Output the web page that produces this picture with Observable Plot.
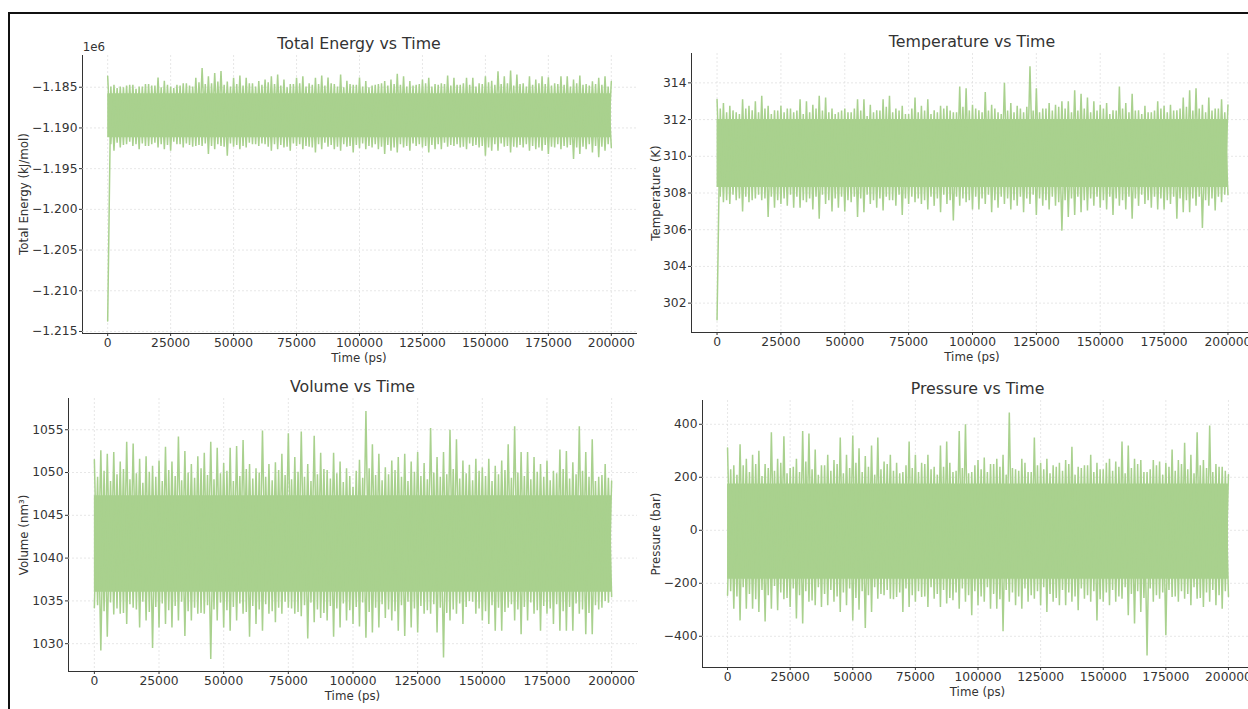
<!DOCTYPE html>
<html>
<head>
<meta charset="utf-8">
<script src="https://cdn.jsdelivr.net/npm/d3@7"></script>
<script src="https://cdn.jsdelivr.net/npm/@observablehq/plot@0.6"></script>
<style>
  html, body { margin: 0; padding: 0; background: #fff; }
  #page { position: relative; width: 1248px; height: 709px; overflow: hidden; background: #fff;
          font-family: "DejaVu Sans", sans-serif; color: #333; }
  .txt { position: absolute; white-space: nowrap; transform: translate(-50%, -50%); }
  .title { font-size: 15.8px; color: #333; }
  .lab { font-size: 11.8px; color: #333; }
  .ylab { transform: translate(-50%, -50%) rotate(-90deg); }
  .bar { position: absolute; background: #111; }
</style>
</head>
<body>
<div id="page"></div>
<script>
// ---------------- data ----------------
const timeTicks = [0, 25000, 50000, 75000, 100000, 125000, 150000, 175000, 200000];
// bin centres for the extreme spikes
const binTimes = [0,2500,5000,7500,10000,12500,15000,17500,20000,22500,
  25000,27500,30000,32500,35000,37500,40000,42500,45000,47500,
  50000,52500,55000,57500,60000,62500,65000,67500,70000,72500,
  75000,77500,80000,82500,85000,87500,90000,92500,95000,97500,
  100000,102500,105000,107500,110000,112500,115000,117500,120000,122500,
  125000,127500,130000,132500,135000,137500,140000,142500,145000,147500,
  150000,152500,155000,157500,160000,162500,165000,167500,170000,172500,
  175000,177500,180000,182500,185000,187500,190000,192500,195000,197500,
  200000];
// in-between times for the denser fringe just outside the solid band
const midTimes = [1250,3750,6250,8750,11250,13750,16250,18750,21250,23750,
  26250,28750,31250,33750,36250,38750,41250,43750,46250,48750,
  51250,53750,56250,58750,61250,63750,66250,68750,71250,73750,
  76250,78750,81250,83750,86250,88750,91250,93750,96250,98750,
  101250,103750,106250,108750,111250,113750,116250,118750,121250,123750,
  126250,128750,131250,133750,136250,138750,141250,143750,146250,148750,
  151250,153750,156250,158750,161250,163750,166250,168750,171250,173750,
  176250,178750,181250,183750,186250,188750,191250,193750,196250,198750];

// Total energy (kJ/mol)
const energyHigh = [-1183650,-1184700,-1184900,-1184800,-1184700,-1184900,-1184600,-1184800,-1183800,-1184200,
  -1184900,-1184700,-1184500,-1184800,-1183850,-1182650,-1183650,-1183250,-1183000,-1184300,
  -1183850,-1183550,-1183850,-1184500,-1184250,-1184050,-1183650,-1183450,-1184050,-1184600,
  -1183850,-1183650,-1184500,-1183850,-1183550,-1183800,-1184600,-1183450,-1184200,-1184700,
  -1183800,-1184250,-1184800,-1184600,-1184250,-1184050,-1183350,-1183650,-1184250,-1184700,
  -1184050,-1183850,-1184600,-1184500,-1183550,-1183850,-1184700,-1183850,-1183850,-1184500,
  -1183650,-1184200,-1183050,-1183650,-1182950,-1183450,-1184500,-1183650,-1184050,-1183650,
  -1183780,-1184500,-1183650,-1183650,-1184050,-1183550,-1184600,-1184270,-1183850,-1183650,
  -1184300];
const energyLow = [-1213700,-1192800,-1192400,-1192000,-1192200,-1192600,-1192200,-1192000,-1192400,-1192600,
  -1192800,-1192000,-1192400,-1192100,-1192200,-1192200,-1193200,-1192600,-1192200,-1193400,
  -1192300,-1192600,-1192400,-1192000,-1192200,-1192000,-1192800,-1192600,-1192400,-1192800,
  -1192200,-1192600,-1192300,-1193000,-1192600,-1192300,-1192600,-1192800,-1192300,-1193000,
  -1192500,-1192600,-1192400,-1192600,-1193200,-1192800,-1193000,-1192400,-1192800,-1192200,
  -1192400,-1193000,-1192600,-1192600,-1192300,-1192200,-1192400,-1192600,-1192200,-1192400,
  -1193400,-1192800,-1192800,-1192300,-1193000,-1192400,-1192400,-1192800,-1192600,-1192800,
  -1193200,-1192400,-1192600,-1192400,-1193800,-1193200,-1192600,-1193000,-1193600,-1192800,
  -1192400];
const energyFringeHigh = [-1184900,-1185100,-1185000,-1184700,-1185200,-1184900,-1184600,-1184800,-1185000,-1184700,
  -1185100,-1184800,-1184500,-1184900,-1184400,-1184600,-1184500,-1184300,-1184700,-1184900,
  -1184600,-1184800,-1184500,-1184900,-1184700,-1184400,-1184600,-1184800,-1185000,-1184600,
  -1184500,-1184900,-1184700,-1184600,-1184800,-1184500,-1184900,-1185000,-1184600,-1184700,
  -1184900,-1185000,-1184700,-1184500,-1184800,-1184600,-1184700,-1184900,-1184800,-1184600,
  -1184500,-1184900,-1184700,-1184600,-1184800,-1184700,-1184500,-1184700,-1184900,-1184600,
  -1184400,-1184700,-1184600,-1184500,-1184800,-1184600,-1184900,-1184700,-1184500,-1184600,
  -1184800,-1184600,-1184700,-1184900,-1184500,-1184700,-1184800,-1184600,-1184700,-1184900];
const energyFringeLow = [-1192000,-1191800,-1192100,-1191700,-1192000,-1191900,-1192200,-1191800,-1192000,-1192100,
  -1191700,-1192000,-1191900,-1192300,-1192100,-1191900,-1192200,-1192000,-1192300,-1191900,
  -1192100,-1192200,-1191800,-1192000,-1191900,-1192300,-1192000,-1192100,-1192300,-1191900,
  -1192000,-1192200,-1192400,-1192000,-1191800,-1192100,-1192300,-1192000,-1192200,-1192100,
  -1191900,-1192200,-1192000,-1192300,-1192100,-1192400,-1192000,-1192200,-1191900,-1192000,
  -1192200,-1192100,-1192000,-1191800,-1192100,-1192000,-1192300,-1191900,-1192100,-1192200,
  -1192400,-1192000,-1191900,-1192200,-1192300,-1192100,-1192000,-1192200,-1192400,-1192100,
  -1192300,-1192000,-1192200,-1192100,-1192400,-1192300,-1192000,-1192200,-1192300,-1192000];
const energyCore = [-1191200, -1185800];
const energyTicks = [-1215000, -1210000, -1205000, -1200000, -1195000, -1190000, -1185000];

// Temperature (K)
const tempHigh = [313.1,312.9,312.75,312.4,313.1,312.75,313.0,313.3,312.75,312.5,
  312.75,312.6,312.4,313.1,313.0,312.8,313.3,313.2,312.6,312.4,
  312.6,312.4,313.1,313.1,312.8,312.5,313.1,313.3,312.6,312.75,
  312.3,313.2,312.75,313.1,312.5,312.75,312.75,312.4,313.8,313.7,
  312.8,312.5,313.5,312.8,312.4,314.0,312.9,312.75,312.4,314.9,
  313.7,312.6,312.9,312.8,313.0,313.0,313.6,313.4,313.2,313.0,
  312.8,312.9,312.5,313.8,312.9,313.4,312.5,312.75,312.4,313.0,
  312.75,312.8,312.5,313.2,313.6,313.7,312.8,313.2,312.6,313.1,
  312.8];
const tempLow = [301.1,307.5,307.4,307.6,307.0,307.5,307.7,307.6,306.7,307.2,
  307.4,307.3,307.2,307.2,307.5,307.1,306.6,307.4,307.0,307.2,
  307.0,307.5,306.7,306.95,307.4,307.2,307.05,307.6,307.3,306.8,
  307.4,307.5,307.4,307.1,307.3,306.95,307.4,306.5,307.3,307.5,
  307.1,307.1,307.4,306.95,307.2,307.4,307.1,307.3,306.95,307.4,
  306.8,307.3,307.1,307.3,305.95,306.7,306.8,306.95,307.05,307.3,
  307.2,307.1,306.8,307.3,307.1,306.6,307.3,307.4,307.2,307.1,
  307.1,307.4,306.6,306.95,306.95,307.3,306.1,307.3,307.05,307.5,
  307.9];
const tempFringeHigh = [312.6,312.4,312.5,312.3,312.6,312.5,312.4,312.6,312.3,312.5,
  312.4,312.6,312.5,312.3,312.4,312.6,312.5,312.4,312.3,312.5,
  312.4,312.6,312.5,312.2,312.4,312.5,312.7,312.4,312.5,312.3,
  312.6,312.4,312.5,312.3,312.4,312.6,312.5,312.4,312.7,312.5,
  312.6,312.4,312.5,312.6,312.3,312.5,312.4,312.6,312.7,312.5,
  312.4,312.6,312.5,312.7,312.6,312.4,312.5,312.6,312.4,312.5,
  312.6,312.3,312.5,312.6,312.4,312.5,312.3,312.4,312.5,312.6,
  312.4,312.5,312.6,312.7,312.5,312.6,312.4,312.5,312.6,312.4];
const tempFringeLow = [307.8,307.6,307.9,307.7,307.8,307.6,307.9,307.7,307.8,307.6,
  307.7,307.9,307.8,307.6,307.7,307.8,307.9,307.6,307.7,307.8,
  307.6,307.8,307.7,307.9,307.6,307.7,307.8,307.6,307.9,307.7,
  307.8,307.7,307.6,307.8,307.7,307.9,307.6,307.8,307.7,307.6,
  307.8,307.7,307.9,307.6,307.8,307.7,307.6,307.8,307.7,307.9,
  307.7,307.6,307.8,307.5,307.6,307.7,307.8,307.6,307.7,307.8,
  307.6,307.8,307.7,307.6,307.8,307.7,307.9,307.6,307.8,307.7,
  307.6,307.8,307.7,307.6,307.7,307.8,307.6,307.7,307.8,307.9];
const tempCore = [308.3, 312.0];
const tempTicks = [302, 304, 306, 308, 310, 312, 314];

// Volume (nm³)
const volumeHigh = [1051.5,1052.6,1052.2,1052.4,1051.3,1053.6,1053.4,1051.6,1051.9,1050.8,
  1051.4,1053.0,1051.3,1054.2,1052.5,1051.0,1051.9,1052.3,1053.6,1052.9,
  1051.1,1052.9,1053.1,1053.8,1051.0,1050.5,1054.9,1051.0,1051.2,1052.2,
  1054.6,1051.8,1054.8,1051.0,1054.3,1052.3,1050.3,1052.3,1051.3,1050.5,
  1048.3,1051.5,1057.2,1053.3,1052.2,1050.6,1051.4,1051.8,1052.2,1051.3,
  1052.4,1051.1,1055.2,1051.8,1052.4,1055.0,1053.9,1051.4,1050.9,1051.6,
  1050.6,1051.6,1050.8,1051.4,1053.3,1055.4,1052.4,1052.4,1051.8,1051.0,
  1051.4,1050.2,1052.7,1052.5,1051.2,1055.4,1052.4,1053.9,1049.5,1051.0,
  1049.0];
const volumeLow = [1034.2,1029.2,1030.8,1033.4,1033.5,1032.3,1034.2,1031.9,1032.7,1029.5,
  1031.9,1032.3,1031.9,1032.7,1030.9,1032.7,1033.5,1033.5,1028.2,1032.7,
  1031.9,1031.5,1032.7,1033.5,1030.8,1032.3,1031.5,1033.5,1032.5,1033.5,
  1034.2,1033.5,1033.2,1030.6,1032.5,1033.0,1032.7,1030.8,1031.9,1032.7,
  1032.3,1032.0,1030.7,1031.3,1031.9,1033.0,1032.7,1031.5,1030.9,1031.9,
  1031.3,1033.5,1033.5,1031.3,1028.4,1032.7,1033.5,1032.3,1035.0,1033.5,
  1032.7,1032.3,1031.5,1031.5,1034.2,1032.7,1031.1,1032.7,1033.5,1031.5,
  1033.5,1032.3,1031.5,1031.5,1031.5,1033.5,1031.1,1031.1,1034.0,1035.0,
  1035.5];
const volumeFringeHigh = [1049.5,1050.2,1049.0,1049.8,1050.4,1049.2,1049.9,1048.8,1050.1,1049.5,
  1049.0,1050.3,1049.6,1049.1,1050.0,1049.4,1050.5,1049.7,1049.2,1049.9,
  1050.2,1049.0,1049.6,1050.4,1049.3,1050.0,1049.5,1049.1,1050.3,1049.7,
  1049.2,1050.1,1049.5,1049.0,1049.8,1050.4,1049.3,1049.9,1048.9,1049.6,
  1050.2,1049.4,1050.5,1049.7,1049.1,1049.8,1050.3,1049.5,1049.0,1050.1,
  1049.6,1049.2,1050.0,1049.5,1049.8,1050.4,1049.3,1049.9,1049.1,1050.2,
  1049.6,1049.0,1049.8,1050.3,1049.4,1050.0,1049.6,1049.2,1050.1,1049.5,
  1049.1,1049.9,1050.4,1049.3,1049.8,1050.2,1049.5,1049.0,1049.7,1049.4];
const volumeFringeLow = [1034.5,1033.8,1034.8,1034.1,1033.6,1034.6,1034.0,1034.9,1033.7,1034.3,
  1034.7,1033.9,1034.4,1034.9,1033.8,1034.2,1033.6,1034.5,1034.0,1034.8,
  1033.9,1034.3,1034.7,1033.7,1034.4,1034.0,1034.6,1033.8,1034.2,1034.9,
  1034.1,1033.7,1034.5,1034.8,1034.0,1033.6,1034.4,1034.1,1034.7,1033.9,
  1034.3,1034.8,1033.7,1034.2,1034.6,1034.0,1033.8,1034.5,1034.9,1034.1,
  1034.4,1033.9,1034.6,1034.2,1033.6,1034.0,1034.7,1034.3,1034.9,1034.1,
  1033.8,1034.5,1034.2,1033.7,1034.6,1034.0,1034.3,1034.8,1033.9,1034.4,
  1034.1,1034.6,1033.8,1034.3,1034.7,1034.0,1033.6,1034.5,1034.2,1034.8];
const volumeCore = [1036.0, 1047.3];
const volumeTicks = [1030, 1035, 1040, 1045, 1050, 1055];

// Pressure (bar)
const pressureHigh = [311,245,325,270,285,300,250,370,270,355,
  235,270,375,365,305,245,285,265,350,285,
  358,310,280,320,350,260,285,255,220,335,
  285,255,285,240,320,335,220,375,400,220,
  265,275,250,270,285,444,230,270,220,350,
  255,270,245,255,265,315,240,245,285,255,
  230,270,260,335,320,270,265,220,265,260,
  255,305,265,330,285,370,265,395,250,240,
  210];
const pressureLow = [-245,-296,-340,-296,-296,-308,-344,-296,-302,-260,
  -289,-333,-352,-270,-283,-289,-283,-270,-308,-283,
  -340,-300,-369,-308,-258,-245,-258,-252,-308,-289,
  -270,-252,-289,-258,-289,-276,-264,-296,-270,-321,
  -283,-270,-296,-296,-381,-270,-283,-296,-270,-258,
  -283,-308,-270,-283,-283,-270,-302,-258,-270,-340,
  -270,-283,-270,-258,-321,-352,-308,-472,-270,-258,
  -396,-252,-270,-258,-283,-258,-289,-270,-283,-296,
  -250];
const pressureFringeHigh = [230,210,245,220,250,205,235,225,255,215,
  240,220,260,230,210,245,225,250,215,235,
  255,220,240,210,230,250,225,215,245,235,
  220,250,230,210,240,255,225,235,215,245,
  230,220,250,240,210,235,225,255,220,245,
  230,215,240,225,250,210,235,245,220,230,
  255,225,240,215,235,250,220,230,245,210,
  240,225,250,230,215,245,235,220,240,225];
const pressureFringeLow = [-230,-250,-215,-240,-260,-225,-245,-210,-235,-255,
  -220,-245,-230,-265,-215,-240,-225,-250,-235,-220,
  -255,-230,-245,-215,-240,-225,-260,-235,-220,-245,
  -230,-250,-215,-240,-225,-255,-235,-220,-245,-230,
  -250,-215,-240,-260,-225,-235,-250,-220,-245,-230,
  -215,-240,-255,-225,-235,-250,-220,-245,-230,-260,
  -235,-225,-250,-215,-240,-230,-255,-220,-245,-235,
  -225,-250,-230,-240,-215,-255,-235,-225,-245,-230];
const pressureCore = [-185, 175];
const pressureTicks = [-400, -200, 0, 200, 400];

// ---------------- drawing ----------------
const GREEN = "#a9d18e";
const page = document.getElementById("page");

function addText(cls, text, x, y) {
  const d = document.createElement("div");
  d.className = "txt " + cls;
  d.textContent = text;
  d.style.left = x + "px";
  d.style.top = y + "px";
  page.appendChild(d);
}
function addBar(l, t, w, h) {
  const d = document.createElement("div");
  d.className = "bar";
  Object.assign(d.style, {left: l + "px", top: t + "px", width: w + "px", height: h + "px"});
  page.appendChild(d);
}

function panel(p) {
  // the band
  const core = binTimes.map(t => ({t, lo: p.core[0], hi: p.core[1]}));
  // two interleaved zig-zag traces: bin extremes alternating with the in-between fringe values
  const traceA = [], traceB = [];
  binTimes.forEach((t, i) => {
    traceA.push({t, v: p.high[i]});
    traceB.push({t, v: p.low[i]});
    if (i < midTimes.length) {
      traceA.push({t: midTimes[i], v: p.fLow[i]});
      traceB.push({t: midTimes[i], v: p.fHigh[i]});
    }
  });
  const mL = 70, mR = 6, mT = 6, mB = 40;
  const grid = {stroke: "#dcdcdc", strokeOpacity: 1, strokeWidth: 0.7, strokeDasharray: "2,2"};
  const svg = Plot.plot({
    width: mL + p.w + mR,
    height: mT + p.h + mB,
    marginLeft: mL, marginRight: mR, marginTop: mT, marginBottom: mB,
    style: "font-family:'DejaVu Sans',sans-serif;font-size:12.3px;color:#333;background:transparent;overflow:visible;",
    x: {domain: [-10000, 210000], ticks: timeTicks, tickFormat: d => String(d),
        tickSize: 3, tickPadding: 2, label: null, line: true},
    y: {domain: p.domain, ticks: p.ticks, tickFormat: p.fmt,
        tickSize: 3, tickPadding: 2, label: null, line: true},
    marks: [
      Plot.gridX(timeTicks, grid),
      Plot.gridY(p.ticks, grid),
      Plot.areaY(core, {x: "t", y1: "lo", y2: "hi", fill: GREEN}),
      Plot.lineY(traceA, {x: "t", y: "v", stroke: GREEN, strokeWidth: 1.5, strokeLinejoin: "miter"}),
      Plot.lineY(traceB, {x: "t", y: "v", stroke: GREEN, strokeWidth: 1.5, strokeLinejoin: "miter"})
    ]
  });
  svg.style.position = "absolute";
  svg.style.left = (p.left - mL) + "px";
  svg.style.top = (p.top - mT) + "px";
  page.appendChild(svg);

  const cx = p.left + p.w / 2;
  addText("title", p.title, cx, p.top - 12);
  addText("lab", "Time (ps)", cx, p.top + p.h + 25);
  addText("lab ylab", p.ylabel, p.ylabX, p.top + p.h / 2);
}

const fmt3 = d3.format(".3f");
const fmt0 = d3.format(".0f");

panel({title: "Total Energy vs Time", ylabel: "Total Energy (kJ/mol)", ylabX: 24,
  left: 82, top: 55, w: 554, h: 278, domain: [-1215250, -1181100],
  ticks: energyTicks, fmt: d => fmt3(d / 1e6),
  high: energyHigh, low: energyLow, fHigh: energyFringeHigh, fLow: energyFringeLow, core: energyCore});
addText("lab", "1e6", 94, 47);

panel({title: "Temperature vs Time", ylabel: "Temperature (K)", ylabX: 656,
  left: 691, top: 53, w: 562, h: 279, domain: [300.4, 315.6],
  ticks: tempTicks, fmt: fmt0,
  high: tempHigh, low: tempLow, fHigh: tempFringeHigh, fLow: tempFringeLow, core: tempCore});

panel({title: "Volume vs Time", ylabel: "Volume (nm³)", ylabX: 24,
  left: 68, top: 398, w: 569, h: 273, domain: [1026.75, 1058.65],
  ticks: volumeTicks, fmt: fmt0,
  high: volumeHigh, low: volumeLow, fHigh: volumeFringeHigh, fLow: volumeFringeLow, core: volumeCore});

panel({title: "Pressure vs Time", ylabel: "Pressure (bar)", ylabX: 656,
  left: 702, top: 400, w: 551, h: 267, domain: [-517.8, 489.8],
  ticks: pressureTicks, fmt: fmt0,
  high: pressureHigh, low: pressureLow, fHigh: pressureFringeHigh, fLow: pressureFringeLow, core: pressureCore});

// outer screenshot frame
addBar(8, 12, 1240, 2);
addBar(8, 12, 2, 697);
</script>
</body>
</html>
